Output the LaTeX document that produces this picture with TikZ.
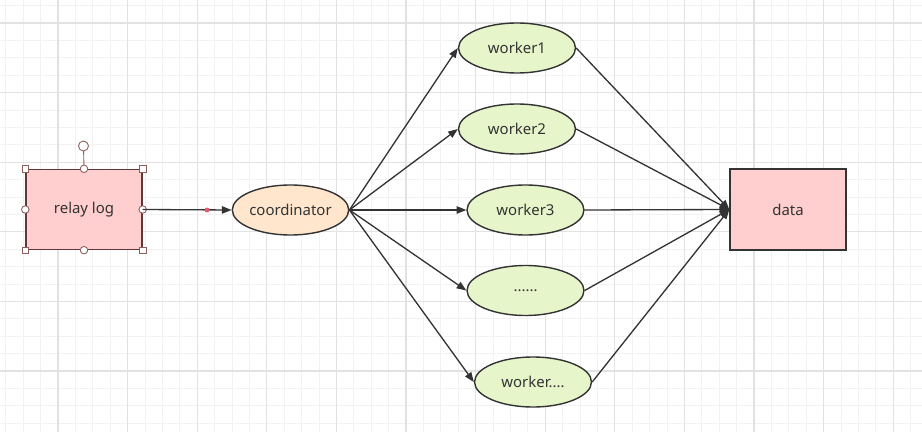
\documentclass[tikz,border=0pt]{standalone}
\usepackage{fontspec}
\setmainfont{Noto Sans}
\usetikzlibrary{arrows.meta,shapes.geometric}
\definecolor{gridminor}{RGB}{242,242,242}
\definecolor{gridmajor}{RGB}{226,226,226}
\definecolor{pinkfill}{RGB}{255,206,206}
\definecolor{orangefill}{RGB}{255,230,204}
\definecolor{greenfill}{RGB}{230,245,202}
\definecolor{linegray}{RGB}{51,51,51}
\definecolor{selborder}{RGB}{95,55,55}
\definecolor{handlecol}{RGB}{140,95,95}
\definecolor{dotred}{RGB}{225,95,105}

\tikzset{
  txt/.style={font=\fontsize{8.5}{10}\selectfont, text=linegray},
  box/.style={txt, draw=linegray, line width=0.8pt, fill=pinkfill,
    minimum width=2.32cm, minimum height=1.6cm},
  coordnode/.style={txt, ellipse, draw=linegray, line width=0.8pt, fill=orangefill,
    inner sep=0pt, minimum width=2.3cm, minimum height=1cm},
  workernode/.style={txt, ellipse, draw=linegray, line width=0.8pt, fill=greenfill,
    inner sep=0pt, minimum width=2.34cm, minimum height=1cm},
  link/.style={draw=linegray, line width=0.75pt, -{Triangle[length=5.5pt,width=4.2pt]}},
  handlesq/.style={draw=handlecol, fill=white, line width=0.5pt, inner sep=0pt,
    minimum size=0.13cm},
  handlecirc/.style={circle, draw=handlecol, fill=white, line width=0.5pt, inner sep=0pt,
    minimum size=0.15cm},
  reddot/.style={circle, fill=dotred, inner sep=0pt, minimum size=0.1cm}
}

\begin{document}
\begin{tikzpicture}[x=0.02cm, y=-0.02cm]
    \useasboundingbox (0,0) rectangle (922,432);
    % grid
    \foreach \k in {0,...,52} \draw[gridminor, line width=0.5pt] ({5.8+17.4*\k},0) -- ({5.8+17.4*\k},432);
    \foreach \k in {0,...,24} \draw[gridminor, line width=0.5pt] (0,{5.6+17.4*\k}) -- (922,{5.6+17.4*\k});
    \foreach \k in {0,...,12} \draw[gridmajor, line width=0.7pt] ({58+69.6*\k},0) -- ({58+69.6*\k},432);
    \foreach \k in {0,...,5} \draw[gridmajor, line width=0.7pt] (0,{23+69.6*\k}) -- (922,{23+69.6*\k});

    \node[box, draw=selborder] (relay) at (84,209.5) {relay log};
    \node[coordnode] (coord) at (290.5,210) {coordinator};
    \node[workernode] (w1) at (517,48) {worker1};
    \node[workernode] (w2) at (517,129) {worker2};
    \node[workernode] (w3) at (525.5,210) {worker3};
    \node[workernode] (w4) at (525.5,290.5) {......};
    \node[workernode] (w5) at (533,382) {worker....};
    \node[box, minimum height=1.62cm] (data) at (788,209.5) {data};

    % selection handles
    \coordinate (rot) at (83.5,146);
    \draw[handlecol, line width=0.5pt] (relay.north) -- (rot);
    \node[handlecirc, minimum size=0.2cm] (roth) at (rot) {};
    \foreach \a in {north west,north east,south west,south east}
        \node[handlesq] at (relay.\a) {};
    \foreach \a in {north,south,west,east}
        \node[handlecirc] at (relay.\a) {};

    \draw[link] (relay.east) -- (coord.west);
    \node[reddot] (mid) at (207,210) {};

    \foreach \w in {w1,w2,w3,w4,w5} {
        \draw[link] (coord.east) -- (\w.west);
        \draw[link] (\w.east) -- (data.west);
    }
\end{tikzpicture}
\end{document}
